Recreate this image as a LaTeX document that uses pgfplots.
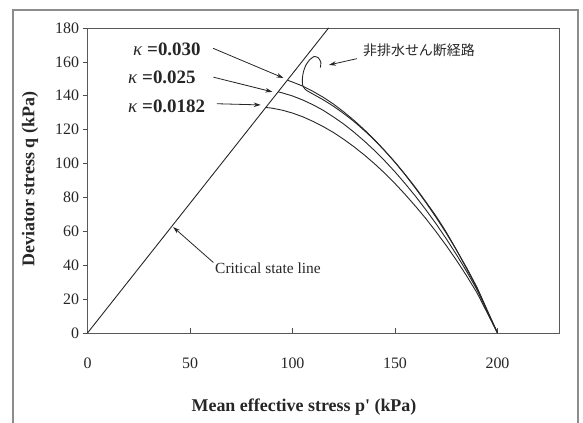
\documentclass[border=0pt]{standalone}
\usepackage{fontspec}
\setmainfont{Liberation Serif}
\newfontfamily\jpfont{Noto Sans CJK JP}
\usepackage{pgfplots}
\pgfplotsset{compat=1.18}
\usetikzlibrary{arrows.meta}

\begin{document}
\begin{tikzpicture}[x=1bp,y=1bp]
\useasboundingbox (0,0) rectangle (583,422);
% outer chart frame
\draw[black!45, line width=1.3bp] (13,-5) -- (13,412) -- (578,412) -- (578,-5);

\begin{axis}[
  at={(87.5bp,89bp)}, anchor=south west,
  scale only axis, width=471.5bp, height=305bp,
  xmin=0, xmax=230, ymin=0, ymax=180,
  xtick={0,50,...,200}, ytick={0,20,...,180},
  tick pos=left, tick align=inside,
  major tick length=5bp,
  y tick style={xshift=-5bp},
  tick style={black!70, line width=0.6bp},
  axis line style={black!65, line width=0.9bp},
  /pgf/number format/assume math mode=true,
  ticklabel style={font=\fontsize{16}{16}\selectfont, text=black!85},
  xticklabel style={yshift=-21bp},
  yticklabel style={xshift=-5bp},
  curve/.style={black!85, line width=0.9bp, mark=none},
  clip=false,
]
% critical state line, q = M p'
\addplot[curve] coordinates {(0,0) (117.6,180)};

% kappa = 0.0182
\addplot[curve] coordinates {
(87,133.1) (90,132.7) (95,131.5) (100,129.8) (105,127.6) (110,124.9)
(115,121.8) (120,118.3) (125,114.3) (130,109.9) (135,105.1) (140,99.9)
(145,94.3) (150,88.2) (155,81.7) (160,74.8) (165,67.6) (170,59.8)
(175,51.6) (180,42.9) (185,33.6) (190,23.7) (200,0)};

% kappa = 0.025
\addplot[curve] coordinates {
(93,142.3) (95,141.7) (100,139.9) (105,137.5) (110,134.7) (115,131.4)
(120,127.5) (125,123.3) (130,118.5) (135,113.3) (140,107.7) (145,101.6)
(150,95.1) (155,88.1) (160,80.7) (165,72.8) (170,64.5) (175,55.6)
(180,46.2) (185,36.2) (190,25.5) (200,0)};

% kappa = 0.030
\addplot[curve] coordinates {
(97.5,149.2) (100,148.1) (105,145.7) (110,142.6) (115,139.1) (120,135.1)
(125,130.5) (130,125.5) (135,120.0) (140,114.1) (145,107.6) (150,100.7)
(155,93.3) (160,85.4) (165,77.1) (170,68.3) (175,58.9) (180,48.9)
(185,38.4) (190,27.0) (200,0)};

% measured undrained shear path
\addplot[curve, smooth, tension=0.4] coordinates {
(200,0) (196,10) (192,21) (188,31) (184,40) (180,49) (175,59.5) (170,69)
(165,77.5) (160,85.8) (155,93.5) (150,100.8) (145,107.5) (140,113.8)
(135,119.5) (130,124.8) (125,129.5) (120,133.8) (115,137.6) (110,141)
(106.5,143.5) (105,146) (104.8,150) (105.3,154) (106.4,157.8) (108.2,161)
(110.5,163.2) (112.6,162.4) (113.8,159.8) (113.6,156.6)};

% annotation arrows
\draw[-{Stealth[length=7bp,width=4.5bp]}, line width=0.8bp, black!85]
  (61.3,168) -- (95.6,150.5);
\draw[-{Stealth[length=7bp,width=4.5bp]}, line width=0.8bp, black!85]
  (61.4,151) -- (90.2,142.3);
\draw[-{Stealth[length=7bp,width=4.5bp]}, line width=0.8bp, black!85]
  (63.1,135.3) -- (84.5,134.6);
\draw[-{Stealth[length=7bp,width=4.5bp]}, line width=0.8bp, black!85]
  (61.4,41.6) -- (41.8,62.5);
\draw[-{Stealth[length=7bp,width=4.5bp]}, line width=0.8bp, black!85]
  (131.4,161.9) -- (117.8,158.2);
\end{axis}

% axis titles
\node[font=\fontsize{18}{18}\selectfont\bfseries, text=black!85]
  at (304,15) {Mean effective stress p\textquotesingle{} (kPa)};
\node[font=\fontsize{18}{18}\selectfont\bfseries, text=black!85, rotate=90]
  at (30,243) {Deviator stress q (kPa)};

% curve labels
\node[anchor=west, font=\fontsize{19}{19}\selectfont, text=black!85, inner sep=0]
  at (133,373) {\textit{κ} \textbf{=0.030}};
\node[anchor=west, font=\fontsize{19}{19}\selectfont, text=black!85, inner sep=0]
  at (128,345) {\textit{κ} \textbf{=0.025}};
\node[anchor=west, font=\fontsize{19}{19}\selectfont, text=black!85, inner sep=0]
  at (128,316) {\textit{κ} \textbf{=0.0182}};
\node[anchor=west, font=\jpfont\fontsize{14}{14}\selectfont, text=black!85, inner sep=0]
  at (363,372) {非排水せん断経路};
\node[anchor=west, font=\fontsize{15.5}{16}\selectfont, text=black!85, inner sep=0]
  at (215,154) {Critical state line};
\end{tikzpicture}
\end{document}
